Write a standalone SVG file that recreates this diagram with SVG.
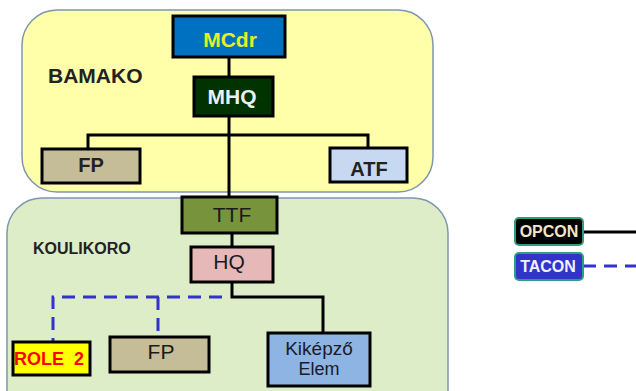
<svg xmlns="http://www.w3.org/2000/svg" width="636" height="391" viewBox="0 0 636 391">
<style>
.region{stroke:#7F95B0;stroke-width:1.5}
.box{stroke:#000;stroke-width:3}
.t{font-family:"Liberation Sans",Arial,sans-serif;text-anchor:middle}
.s{font-family:"Liberation Sans",Arial,sans-serif}
.b{font-weight:bold}
.solid{fill:none;stroke:#000;stroke-width:3}
.dash{fill:none;stroke:#3333CC;stroke-width:3;stroke-dasharray:13 8}
</style>
<rect width="636" height="391" fill="#fff"/>
<g id="bamako">
<rect class="region" x="22" y="10" width="411" height="182" rx="35" fill="#FFFFAA"/>
<text class="s b" x="48" y="83" font-size="21" fill="#222">BAMAKO</text>
</g>
<g id="koulikoro">
<rect class="region" x="7" y="198" width="441" height="230" rx="35" fill="#DCEDC8"/>
<text class="s b" x="33" y="254" font-size="16" fill="#222">KOULIKORO</text>
</g>
<g id="connectors">
<path class="solid" d="M229 57V198"/>
<path class="solid" d="M88 149V135H368V148"/>
<path class="solid" d="M232 233V247"/>
<path class="solid" d="M232 282V297H323V333"/>
<path class="dash" d="M222 297H53V342"/>
<path class="dash" d="M158 297V337"/>
<path class="solid" d="M583 232H636"/>
<path class="dash" d="M583 266H636"/>
</g>
<g id="mcdr">
<rect class="box" x="173" y="16" width="112" height="41" fill="#0070C0"/>
<text class="t b" x="230" y="47" font-size="21" fill="#E6F020">MCdr</text>
</g>
<g id="mhq">
<rect class="box" x="194" y="77" width="79" height="39" fill="#003300"/>
<text class="t b" x="232" y="104" font-size="21" fill="#E8F0F8">MHQ</text>
</g>
<g id="fp1">
<rect class="box" x="42" y="149" width="98" height="34" fill="#C4BD97"/>
<text class="t b" x="91" y="172" font-size="20" fill="#222">FP</text>
</g>
<g id="atf">
<rect class="box" x="330" y="148" width="77" height="34" fill="#C6D9F1"/>
<text class="t b" x="369" y="176" font-size="20" fill="#222">ATF</text>
</g>
<g id="ttf">
<rect class="box" x="182" y="197" width="95" height="36" fill="#77933C"/>
<text class="t" x="232" y="222" font-size="21" fill="#1a1a1a">TTF</text>
</g>
<g id="hq">
<rect class="box" x="191" y="247" width="82" height="35" fill="#E6B9B8" stroke-width="2"/>
<text class="t" x="229" y="269" font-size="21" fill="#1a1a2a">HQ</text>
</g>
<g id="role2">
<rect class="box" x="13" y="342" width="77" height="33" fill="#FFFF00"/>
<text class="s b" x="14" y="365" font-size="18" fill="#FF0000" xml:space="preserve">ROLE  2</text>
</g>
<g id="fp2">
<rect class="box" x="110" y="337" width="99" height="35" fill="#C4BD97"/>
<text class="t" x="161" y="359" font-size="21" fill="#1a1a1a">FP</text>
</g>
<g id="kikepzo">
<rect class="box" x="268" y="333" width="102" height="53" fill="#8DB4E2"/>
<text class="t" x="319" y="355" font-size="19" fill="#1a1a2a">Kiképző</text>
<text class="t" x="319" y="375" font-size="18" fill="#1a1a2a">Elem</text>
</g>
<g id="opcon">
<rect x="515" y="218" width="68" height="27" rx="4" fill="#000" stroke="#2E9E80" stroke-width="2"/>
<text class="t b" x="549" y="237" font-size="16" fill="#F5E6C8">OPCON</text>
</g>
<g id="tacon">
<rect x="515" y="253" width="68" height="27" rx="4" fill="#3333CC" stroke="#2E9E80" stroke-width="2"/>
<text class="t b" x="548" y="272" font-size="16" fill="#F0F0FF">TACON</text>
</g>
</svg>
